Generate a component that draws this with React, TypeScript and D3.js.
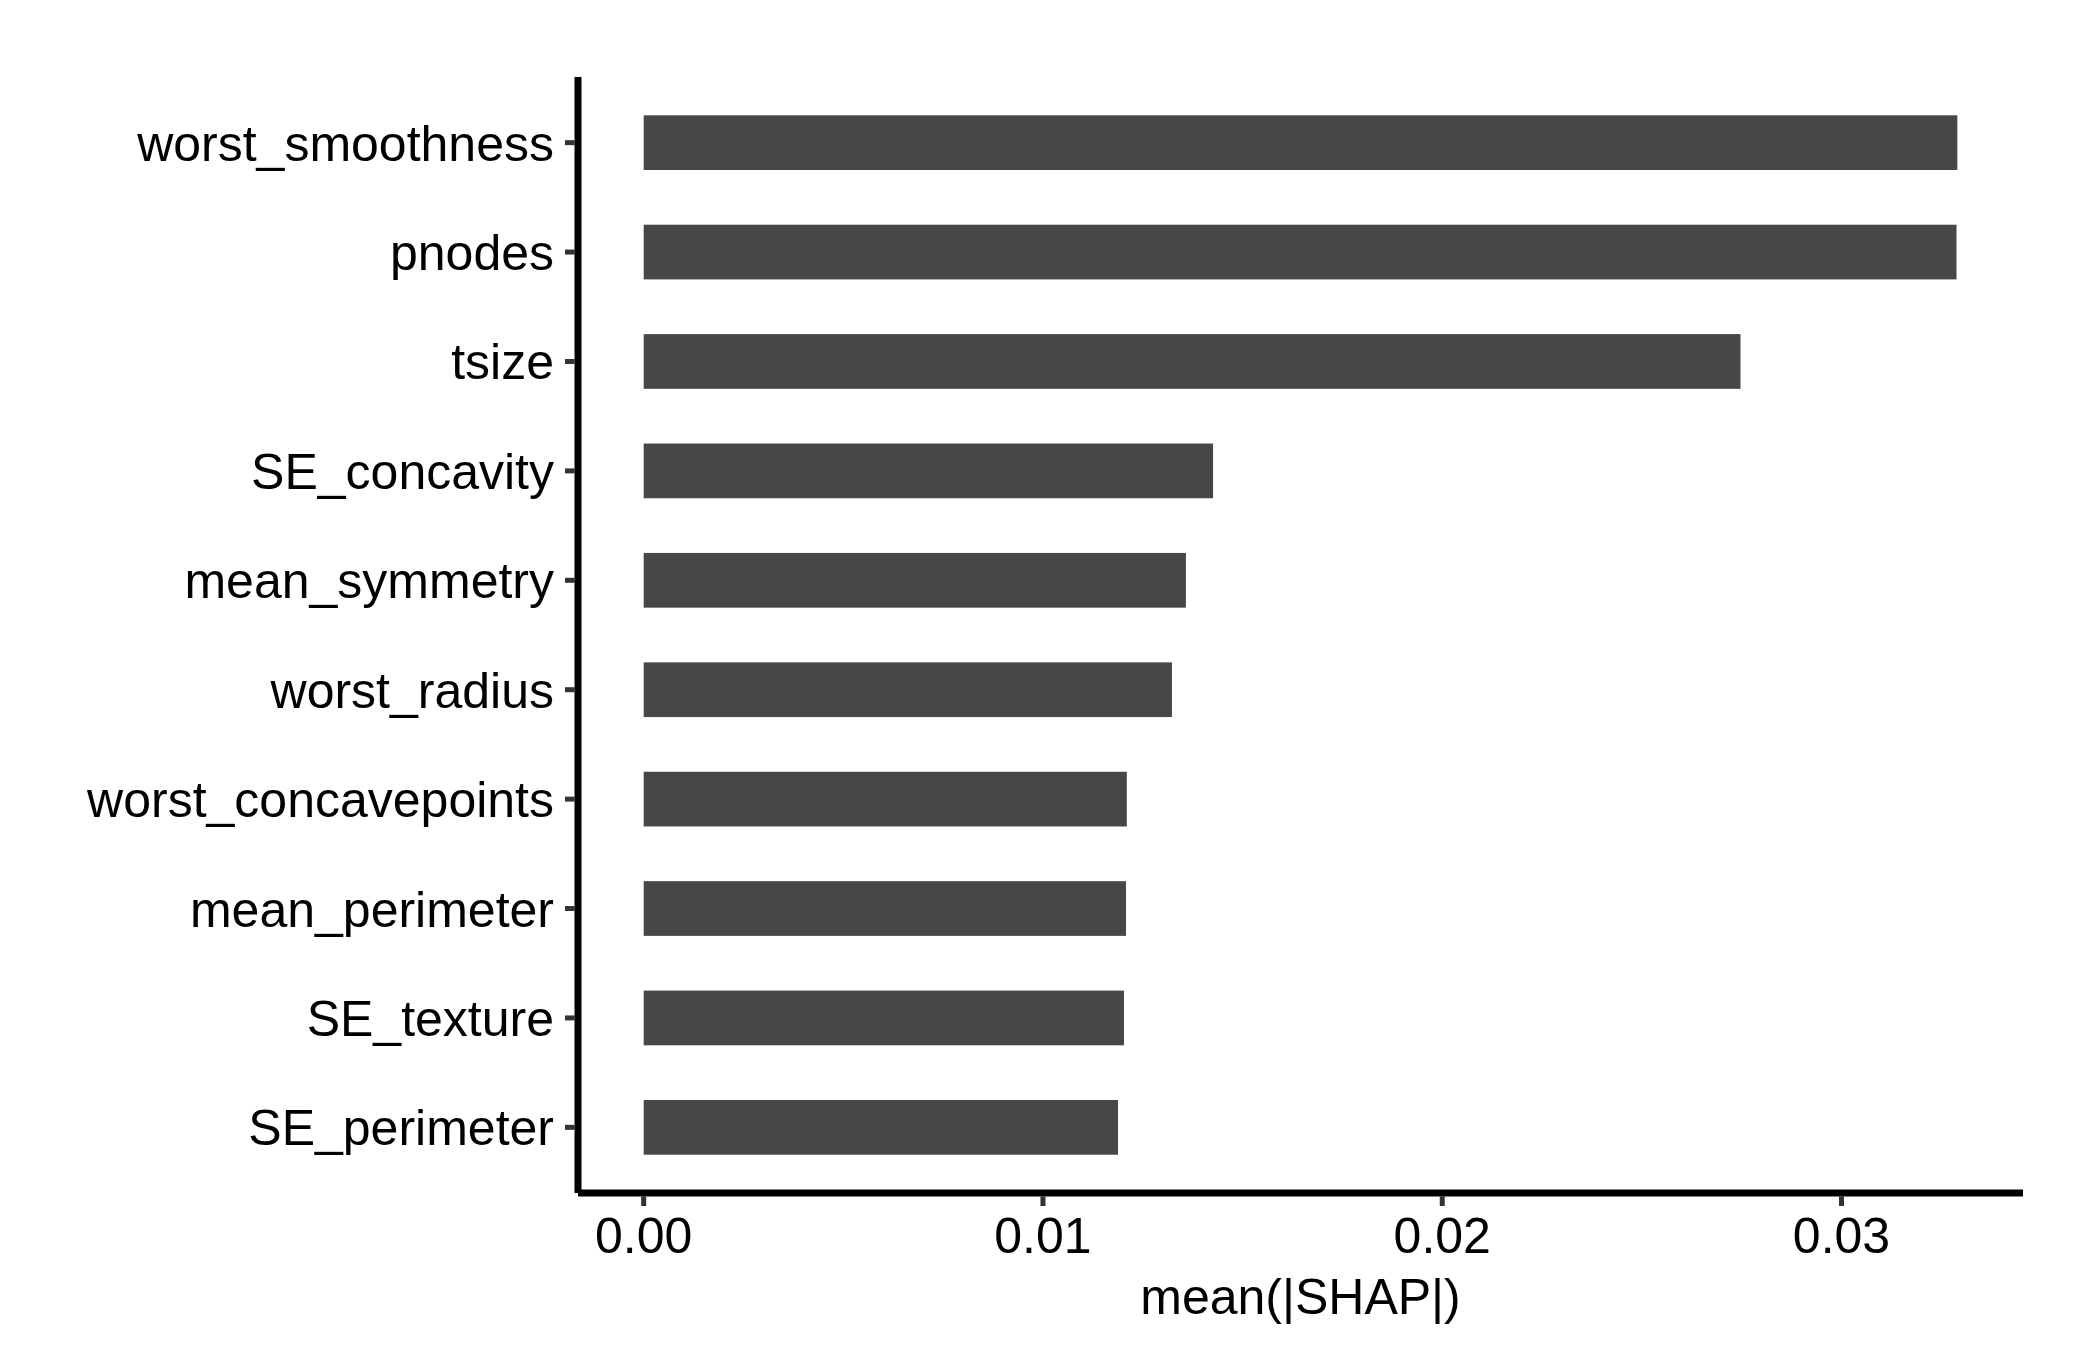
import React, { useEffect, useRef } from 'react';
import * as d3 from 'd3';

// feature names, top to bottom
const features: string[] = [
  'worst_smoothness',
  'pnodes',
  'tsize',
  'SE_concavity',
  'mean_symmetry',
  'worst_radius',
  'worst_concavepoints',
  'mean_perimeter',
  'SE_texture',
  'SE_perimeter',
];

// mean(|SHAP|) per feature
const meanAbsShap: number[] = [
  0.0329, 0.03288, 0.02747, 0.01426, 0.01358, 0.01323, 0.0121, 0.01208, 0.01203, 0.01188,
];

const xTicks: number[] = [0, 0.01, 0.02, 0.03];
const xTitle = 'mean(|SHAP|)';

const ShapBarChart: React.FC = () => {
  const svgRef = useRef<SVGSVGElement>(null);

  useEffect(() => {
    document.body.style.margin = '0';
    if (!svgRef.current) return;

    const width = 2100;
    const height = 1350;
    const left = 578;
    const right = 2023;
    const top = 77;
    const bottom = 1193;
    const font = "'Liberation Sans', Arial, Helvetica, sans-serif";
    const fontSize = 50;

    const svg = d3.select(svgRef.current);
    svg.selectAll('*').remove();
    svg.attr('width', width).attr('height', height).attr('viewBox', `0 0 ${width} ${height}`);

    svg.append('rect').attr('width', width).attr('height', height).attr('fill', 'white');

    // ggplot style 5% expansion around 0..max
    const maxVal = d3.max(meanAbsShap) || 0;
    const pad = maxVal * 0.05;
    const x = d3.scaleLinear().domain([-pad, maxVal + pad]).range([left, right]);

    const y = d3.scaleBand<string>()
      .domain(features)
      .range([top, bottom])
      .paddingInner(0.5)
      .paddingOuter(0.35);

    // bars
    svg.append('g')
      .selectAll('rect')
      .data(features)
      .enter()
      .append('rect')
      .attr('x', x(0))
      .attr('y', d => y(d) || 0)
      .attr('width', (d, i) => x(meanAbsShap[i]) - x(0))
      .attr('height', y.bandwidth())
      .attr('fill', '#474747');

    // y ticks + labels
    const yAxis = svg.append('g');
    features.forEach(f => {
      const cy = (y(f) || 0) + y.bandwidth() / 2;
      yAxis.append('line')
        .attr('x1', left - 13).attr('x2', left - 3.5)
        .attr('y1', cy).attr('y2', cy)
        .attr('stroke', '#333333').attr('stroke-width', 5);
      yAxis.append('text')
        .attr('x', left - 24)
        .attr('y', cy)
        .attr('dy', '0.36em')
        .attr('text-anchor', 'end')
        .attr('font-family', font)
        .attr('font-size', fontSize)
        .attr('fill', 'black')
        .text(f);
    });

    // x ticks + labels
    const xAxis = svg.append('g');
    xTicks.forEach(t => {
      xAxis.append('line')
        .attr('x1', x(t)).attr('x2', x(t))
        .attr('y1', bottom + 3.5).attr('y2', bottom + 13)
        .attr('stroke', '#333333').attr('stroke-width', 5);
      xAxis.append('text')
        .attr('x', x(t))
        .attr('y', 1253)
        .attr('text-anchor', 'middle')
        .attr('font-family', font)
        .attr('font-size', fontSize)
        .attr('fill', 'black')
        .text(d3.format('.2f')(t));
    });

    // axis lines
    svg.append('line')
      .attr('x1', left).attr('x2', left)
      .attr('y1', top).attr('y2', bottom)
      .attr('stroke', 'black').attr('stroke-width', 7);
    svg.append('line')
      .attr('x1', left).attr('x2', right)
      .attr('y1', bottom).attr('y2', bottom)
      .attr('stroke', 'black').attr('stroke-width', 7);

    // axis title
    svg.append('text')
      .attr('x', (left + right) / 2)
      .attr('y', 1314)
      .attr('text-anchor', 'middle')
      .attr('font-family', font)
      .attr('font-size', fontSize)
      .attr('fill', 'black')
      .text(xTitle);
  }, []);

  return <svg ref={svgRef} style={{ display: 'block' }} />;
};

export default function App() {
  return <ShapBarChart />;
}
